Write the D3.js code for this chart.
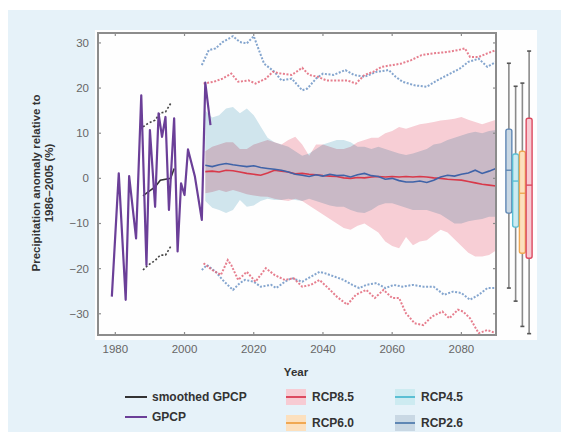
<!DOCTYPE html>
<html><head><meta charset="utf-8">
<script src="https://cdn.jsdelivr.net/npm/d3@7"></script>
<style>
html,body{margin:0;padding:0;background:#fff;}
svg{display:block;font-family:"Liberation Sans",Arial,Helvetica,sans-serif;}
</style></head>
<body>
<svg id="chart" width="561" height="432"></svg>
<script>
// ---------------- DATA ----------------
const yTicks = [-30, -20, -10, 0, 10, 20, 30];
const xTicks = [1980, 2000, 2020, 2040, 2060, 2080];

// GPCP observations [year, anomaly %]
const gpcp = [[1979,-26.2],[1981,1.1],[1983,-26.9],[1984,0.5],[1986,-13.3],[1987.5,18.4],[1989,-19.2],[1990,10.7],[1991.5,-6.3],[1992.5,14.4],[1993.5,9.2],[1994.5,13.6],[1995.5,-7.0],[1997,13.3],[1998,-16.2],[1999,-1.1],[2000,-3.7],[2001,6.4],[2003,0.4],[2005,-9.2],[2006,21.2],[2007.5,11.8]];
const gpcpSmooth = [[1988,-3.9],[1989.5,-3.0],[1991.5,-1.9],[1993,-0.4],[1996,0.0],[1997,2.2]];
const gpcpUpper = [[1988,11.4],[1989.5,12.2],[1991.5,12.9],[1993,14.5],[1994.5,14.7],[1996,16.6]];
const gpcpLower = [[1988,-20.3],[1989.5,-19.2],[1991.5,-18.2],[1993,-17.0],[1994.5,-17.0],[1996,-15.1]];

// projection band years
const bandYears = [2006,2008,2010,2012,2014,2016,2018,2020,2022,2024,2026,2028,2030,2032,2034,2036,2038,2040,2042,2044,2046,2048,2050,2052,2054,2056,2058,2060,2062,2064,2066,2068,2070,2072,2074,2076,2078,2080,2082,2084,2086,2088,2090];
const rcp26Upper = [15.0,13.5,14.0,15.5,15.8,14.4,15.5,14.0,11.5,9.0, 8.0,7.5,7.0,6.0,5.0,5.5,6.5,7.5,8.0,8.5, 8.5,8.0,7.0,7.0,6.5,7.0,6.5,6.0,5.5,5.2, 5.5,6.0,6.5,7.5,7.8,8.5,9.0,9.5,10.0,10.3, 10.0,10.5,10.7];
const rcp26Lower = [-5.0,-6.5,-7.0,-7.7,-7.0,-4.8,-6.3,-6.0,-5.0,-4.5, -4.8,-4.8,-4.5,-4.8,-5.0,-4.5,-5.0,-5.5,-6.0,-6.3, -6.3,-7.0,-7.5,-7.7,-7.0,-6.0,-5.5,-5.5,-6.0,-6.5, -7.0,-7.0,-7.0,-7.5,-8.0,-9.0,-10.0,-10.0,-9.5,-9.2, -9.0,-8.5,-8.5];
const rcp85Upper = [6.0,7.0,7.5,8.0,8.0,6.5,6.5,7.5,8.0,8.5, 8.0,7.5,8.5,9.2,7.5,5.0,7.5,7.5,7.0,6.5, 6.5,7.0,8.0,8.5,9.0,9.0,10.0,10.5,11.4,11.0, 11.5,12.0,12.2,12.5,12.8,13.0,13.2,13.6,13.0,12.5, 12.0,12.5,13.0];
const rcp85Lower = [-3.3,-3.0,-2.6,-3.0,-2.6,-3.0,-3.5,-3.8,-4.0,-4.1, -4.5,-4.8,-5.0,-4.5,-5.0,-6.0,-7.0,-8.0,-9.0,-10.0, -11.0,-11.4,-10.5,-10.0,-11.0,-12.0,-14.0,-15.0,-15.5,-13.0, -14.8,-14.0,-13.7,-12.5,-11.4,-12.0,-13.5,-15.0,-16.5,-17.3, -17.3,-17.0,-16.0];
const rcp26Mean = [2.9,2.6,3.0,3.3,3.0,2.8,2.6,2.8,2.4,2.2, 2.0,1.8,1.4,0.9,0.7,0.4,0.8,0.5,0.9,0.6, 0.7,0.3,0.8,1.1,0.6,0.4,-0.2,0.0,-0.5,-0.8, -0.8,-0.6,-0.9,-0.4,0.3,0.7,0.5,0.9,1.2,1.8, 1.1,1.6,2.2];
const rcp85Mean = [1.5,1.6,1.4,1.8,1.7,1.4,1.1,0.9,0.7,1.2, 1.8,1.6,1.4,1.0,1.1,0.9,0.8,0.6,0.5,0.4, 0.1,0.0,0.2,0.1,0.3,0.4,0.3,0.4,0.3,0.4, 0.3,0.4,0.3,0.1,0.0,-0.2,-0.3,-0.4,-0.7,-1.0, -1.3,-1.5,-1.7];

// model extremes (dotted) [year, value]
const rcp26Max = [[2005,25.1],[2007,28.4],[2009,28.8],[2011,30.2],[2014,31.5],[2016,30.2],[2018,29.9],[2020,31.5],[2021.5,28.4],[2023,25.4],[2026,23.6],[2028,21.7],[2031,22.1],[2034,19.5],[2035.5,19.9],[2038,22.1],[2040,23.2],[2043,22.9],[2046.5,24.0],[2049,22.9],[2052,22.5],[2055.5,23.6],[2059,24.0],[2061,22.5],[2063,21.4],[2066.5,20.6],[2070,20.3],[2073,21.7],[2076,22.9],[2079.5,24.3],[2082,25.8],[2085,26.5],[2087.5,24.7],[2090,25.8]];
const rcp85Max = [[2005.5,21.0],[2008.5,21.4],[2011,22.1],[2013.5,23.2],[2015.5,21.4],[2018.5,21.7],[2020.5,21.0],[2023.5,22.1],[2025.5,23.6],[2028,23.2],[2031,22.9],[2034,24.5],[2036,22.9],[2038.5,22.5],[2041,21.7],[2044,21.7],[2047,21.7],[2049.5,21.0],[2052,22.9],[2054.5,23.6],[2057,24.7],[2060,25.1],[2062.5,25.4],[2065.5,26.2],[2068.5,27.3],[2072,27.7],[2076,28.0],[2079,28.4],[2081,28.8],[2082.5,26.9],[2085,26.9],[2087.5,27.7],[2090,28.4]];
const rcp26Min = [[2005,-20.3],[2006.5,-19.2],[2009,-20.7],[2011,-22.5],[2013,-24.0],[2014,-24.7],[2016,-23.2],[2017.5,-22.5],[2020,-22.9],[2022,-24.0],[2025,-23.6],[2026.5,-24.3],[2029,-22.9],[2031,-22.1],[2034,-22.9],[2036.5,-21.8],[2039,-20.7],[2040.5,-21.0],[2043.5,-21.8],[2046,-22.5],[2048.5,-23.6],[2050.5,-24.3],[2052.5,-23.6],[2055.5,-23.2],[2058,-24.3],[2060.5,-23.6],[2063,-24.0],[2066,-23.6],[2069,-24.0],[2072,-24.0],[2075,-25.8],[2077.5,-25.1],[2080,-25.4],[2082.5,-26.9],[2085,-25.8],[2087.5,-24.3],[2090,-24.3]];
const rcp85Min = [[2005.5,-18.8],[2008,-20.3],[2010.5,-21.4],[2012.5,-18.1],[2013.5,-19.2],[2015.5,-22.5],[2018,-20.7],[2020.5,-22.9],[2023.5,-19.9],[2026,-21.4],[2029,-22.5],[2031.5,-22.1],[2034,-24.0],[2036.5,-23.6],[2039,-22.5],[2041.5,-24.3],[2044,-26.2],[2047,-28.0],[2049.5,-25.8],[2052.5,-24.7],[2055,-26.5],[2057.5,-24.7],[2060,-26.5],[2062,-26.5],[2064,-29.9],[2066.5,-32.1],[2069,-32.5],[2071.5,-30.6],[2074.5,-29.5],[2076.5,-31.0],[2079,-29.1],[2080.5,-29.5],[2082.5,-31.0],[2085,-34.3],[2087.5,-33.6],[2090,-34.3]];

// box plots (end-of-century spread)
const boxScenarios = ["RCP2.6","RCP4.5","RCP6.0","RCP8.5"];
const boxMin    = [-24.3,-27.2,-32.8,-34.4];
const boxQ1     = [-7.7,-10.8,-16.6,-17.7];
const boxMedian = [1.8,-0.6,-3.3,-1.5];
const boxQ3     = [10.9,5.4,6.0,13.3];
const boxMax    = [25.5,20.4,21.1,28.2];

// legend
const legendLines = ["smoothed GPCP","GPCP"];
const legendRcp = ["RCP8.5","RCP6.0","RCP4.5","RCP2.6"];

// ---------------- STYLE ----------------
const scenColor = {"RCP2.6":{line:"#5f87b4",fill:"#c9d8e4"},"RCP4.5":{line:"#5bbfd4",fill:"#cdebf1"},"RCP6.0":{line:"#f0a853",fill:"#fce0be"},"RCP8.5":{line:"#dc4a60",fill:"#f7cbd3"}};

const svg = d3.select("#chart");
svg.append("rect").attr("x",8).attr("y",10).attr("width",553).attr("height",422).attr("fill","#e6f2f9");
svg.append("rect").attr("x",95).attr("y",30).attr("width",442).attr("height",310).attr("fill","#fefefe");

const x = d3.scaleLinear().domain([1975,2090]).range([98,496]);
const y = d3.scaleLinear().domain([-34.7,32.2]).range([335,33]);
const xb = d3.scaleBand().domain(boxScenarios).range([505.5,532.5]);

const plot = svg.append("g");
plot.append("clipPath").attr("id","clip").append("rect").attr("x",98).attr("y",33).attr("width",398).attr("height",302);
const g = plot.append("g").attr("clip-path","url(#clip)");

const area = (up, lo) => d3.area().x((d,i)=>x(bandYears[i])).y0((d,i)=>y(lo[i])).y1((d,i)=>y(up[i]))(bandYears);
g.append("path").attr("d",area(rcp26Upper,rcp26Lower)).attr("fill","#d0e5ed");
g.append("path").attr("d",area(rcp85Upper,rcp85Lower)).attr("fill","#f7ced5").style("mix-blend-mode","multiply");

const pl = d3.line().x(d=>x(d[0])).y(d=>y(d[1]));
const dotted = (data,color)=>g.append("path").attr("d",pl(data)).attr("fill","none").attr("stroke",color).attr("stroke-width",2).attr("stroke-dasharray","2,1.6").attr("opacity",0.85);
dotted(rcp26Max,"#6f95c6");
dotted(rcp85Max,"#e2677a");
dotted(rcp26Min,"#6f95c6");
dotted(rcp85Min,"#e2677a");

const ml = (vals)=>d3.line().x((d,i)=>x(bandYears[i])).y((d,i)=>y(vals[i]))(bandYears);
g.append("path").attr("d",ml(rcp85Mean)).attr("fill","none").attr("stroke","#d8394a").attr("stroke-width",1.6);
g.append("path").attr("d",ml(rcp26Mean)).attr("fill","none").attr("stroke","#3f63a8").attr("stroke-width",1.6);

g.append("path").attr("d",pl(gpcpUpper)).attr("fill","none").attr("stroke","#444").attr("stroke-width",1.6).attr("stroke-dasharray","2,2");
g.append("path").attr("d",pl(gpcpLower)).attr("fill","none").attr("stroke","#444").attr("stroke-width",1.6).attr("stroke-dasharray","2,2");
g.append("path").attr("d",pl(gpcpSmooth)).attr("fill","none").attr("stroke","#333").attr("stroke-width",1.6);
g.append("path").attr("d",pl(gpcp)).attr("fill","none").attr("stroke","#6b3f98").attr("stroke-width",2.2).attr("stroke-linejoin","round");

// frame + ticks
const axisCol = "#8c8c8c";
plot.append("rect").attr("x",98).attr("y",33).attr("width",398).attr("height",302).attr("fill","none").attr("stroke",axisCol).attr("stroke-width",2);
const tk = plot.append("g").attr("stroke",axisCol).attr("stroke-width",1.2);
yTicks.forEach(t=>{
  tk.append("line").attr("x1",98).attr("x2",101).attr("y1",y(t)).attr("y2",y(t));
  tk.append("line").attr("x1",496).attr("x2",493).attr("y1",y(t)).attr("y2",y(t));
});
xTicks.forEach(t=>{
  tk.append("line").attr("x1",x(t)).attr("x2",x(t)).attr("y1",33).attr("y2",36);
  tk.append("line").attr("x1",x(t)).attr("x2",x(t)).attr("y1",335).attr("y2",332);
});
const lab = svg.append("g").attr("fill","#666").attr("font-size","11.5px");
yTicks.forEach(t=>{
  lab.append("text").attr("x",89).attr("y",y(t)).attr("text-anchor","end").attr("dominant-baseline","central").text(t<0?"\u2212"+Math.abs(t):t);
});
xTicks.forEach(t=>{
  lab.append("text").attr("x",x(t)).attr("y",349).attr("text-anchor","middle").attr("dominant-baseline","central").text(t);
});

// titles
svg.append("text").attr("x",296).attr("y",372).attr("text-anchor","middle").attr("dominant-baseline","central").attr("font-size","11.5px").attr("font-weight","bold").attr("fill","#333").text("Year");
const yt = svg.append("text").attr("transform","translate(43,183) rotate(-90)").attr("text-anchor","middle").attr("font-size","11.5px").attr("font-weight","bold").attr("fill","#333");
yt.append("tspan").attr("x",0).attr("dy","-0.25em").text("Precipitation anomaly relative to");
yt.append("tspan").attr("x",0).attr("dy","1.15em").text("1986\u20132005 (%)");

// box plots
const bw = xb.bandwidth();
boxScenarios.forEach((s,i)=>{
  const cx = xb(s)+bw/2;
  svg.append("line").attr("x1",cx).attr("x2",cx).attr("y1",y(boxMax[i])).attr("y2",y(boxMin[i])).attr("stroke","#8a8a8a").attr("stroke-width",1.6);
  [boxMax[i],boxMin[i]].forEach(v=>svg.append("line").attr("x1",cx-2).attr("x2",cx+2).attr("y1",y(v)).attr("y2",y(v)).attr("stroke","#555").attr("stroke-width",1.6));
});
boxScenarios.forEach((s,i)=>{
  const x0 = xb(s);
  svg.append("rect").attr("x",x0+0.4).attr("y",y(boxQ3[i])).attr("width",bw-0.8).attr("height",y(boxQ1[i])-y(boxQ3[i])).attr("rx",2)
    .attr("fill",scenColor[s].fill).attr("stroke",scenColor[s].line).attr("stroke-width",1.4);
  svg.append("line").attr("x1",x0+0.4).attr("x2",x0+bw-0.4).attr("y1",y(boxMedian[i])).attr("y2",y(boxMedian[i])).attr("stroke",scenColor[s].line).attr("stroke-width",1.4);
});

// legend
const lg = svg.append("g").attr("font-size","12px").attr("font-weight","bold").attr("fill","#333");
const lineCols = ["#333","#6b3f98"], lineYs = [397,417];
legendLines.forEach((name,i)=>{
  lg.append("line").attr("x1",125).attr("x2",147).attr("y1",lineYs[i]).attr("y2",lineYs[i]).attr("stroke",lineCols[i]).attr("stroke-width",2);
  lg.append("text").attr("x",152).attr("y",lineYs[i]).attr("dominant-baseline","central").text(name);
});
const rx = [286,286,395,395], ry = [397,423,397,423];
legendRcp.forEach((name,i)=>{
  lg.append("rect").attr("x",rx[i]).attr("y",ry[i]-8).attr("width",20).attr("height",16).attr("fill",scenColor[name].fill);
  lg.append("line").attr("x1",rx[i]).attr("x2",rx[i]+20).attr("y1",ry[i]).attr("y2",ry[i]).attr("stroke",scenColor[name].line).attr("stroke-width",2);
  lg.append("text").attr("x",rx[i]+26).attr("y",ry[i]).attr("dominant-baseline","central").text(name);
});
</script>
</body></html>
